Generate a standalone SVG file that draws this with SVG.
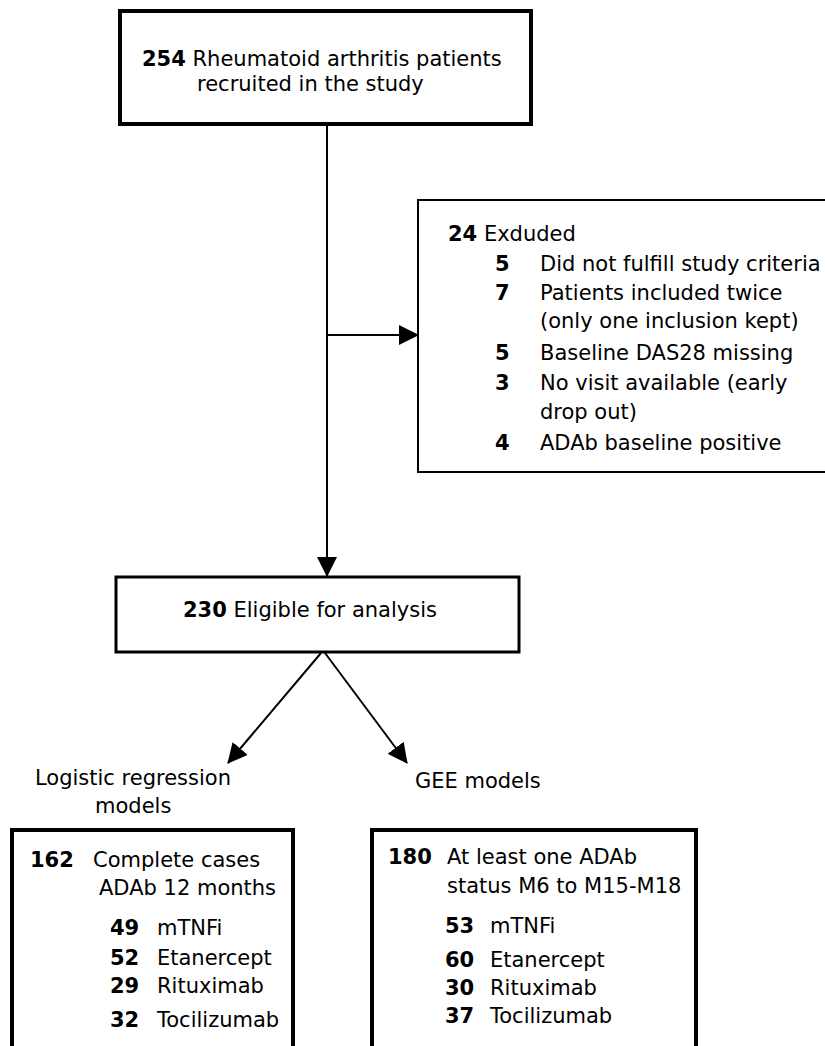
<svg xmlns="http://www.w3.org/2000/svg" width="825" height="1046" viewBox="0 0 825 1046">
<style>
text{font-family:"DejaVu Sans","Verdana",sans-serif;font-size:21px;fill:#000}
.b{font-weight:bold}
.box{fill:#fff;stroke:#000}
.thick{stroke-width:4}
.thin{stroke-width:2}
.mid{stroke-width:3}
.con{stroke:#000;stroke-width:2;fill:none}
</style>
<defs>
<marker id="ah" markerUnits="userSpaceOnUse" markerWidth="20" markerHeight="20" refX="19" refY="10" orient="auto">
<path d="M0,0 L20,10 L0,20 z" fill="#000"/>
</marker>
</defs>
<rect width="825" height="1046" fill="#fff"/>
<g id="connectors">
<line class="con" x1="327" y1="124" x2="327" y2="576" marker-end="url(#ah)"/>
<line class="con" x1="327" y1="335" x2="418" y2="335" marker-end="url(#ah)"/>
<line class="con" x1="321" y1="653" x2="228" y2="763" marker-end="url(#ah)"/>
<line class="con" x1="325" y1="653" x2="407" y2="763" marker-end="url(#ah)"/>
</g>
<g id="recruited">
<rect class="box thick" x="120" y="11" width="411" height="113"/>
<text x="142" y="66"><tspan class="b">254</tspan> Rheumatoid arthritis patients</text>
<text x="197" y="91">recruited in the study</text>
</g>
<g id="excluded">
<rect class="box thin" x="418" y="200" width="420" height="272"/>
<text x="448" y="241"><tspan class="b">24</tspan> Exduded</text>
<text class="b" x="495" y="271">5</text><text x="540" y="271">Did not fulfill study criteria</text>
<text class="b" x="495" y="300">7</text><text x="540" y="300">Patients included twice</text>
<text x="540" y="328">(only one inclusion kept)</text>
<text class="b" x="495" y="360">5</text><text x="540" y="360">Baseline DAS28 missing</text>
<text class="b" x="495" y="390">3</text><text x="540" y="390">No visit available (early</text>
<text x="540" y="419">drop out)</text>
<text class="b" x="495" y="450">4</text><text x="540" y="450">ADAb baseline positive</text>
</g>
<g id="eligible">
<rect class="box mid" x="116" y="577" width="403" height="75"/>
<text x="183" y="617"><tspan class="b">230</tspan> Eligible for analysis</text>
</g>
<g id="label-logistic">
<text x="35" y="785">Logistic regression</text>
<text x="95" y="813">models</text>
</g>
<g id="label-gee">
<text x="415" y="788">GEE models</text>
</g>
<g id="logistic">
<rect class="box thick" x="12" y="830" width="281" height="230"/>
<text class="b" x="30" y="867">162</text><text x="93" y="867">Complete cases</text>
<text x="99" y="895">ADAb 12 months</text>
<text class="b" x="110" y="935">49</text><text x="157" y="935">mTNFi</text>
<text class="b" x="110" y="965">52</text><text x="157" y="965">Etanercept</text>
<text class="b" x="110" y="993">29</text><text x="157" y="993">Rituximab</text>
<text class="b" x="110" y="1027">32</text><text x="157" y="1027">Tocilizumab</text>
</g>
<g id="gee">
<rect class="box thick" x="372" y="830" width="324" height="230"/>
<text class="b" x="388" y="864">180</text><text x="447" y="864">At least one ADAb</text>
<text x="447" y="893">status M6 to M15-M18</text>
<text class="b" x="445" y="933">53</text><text x="490" y="933">mTNFi</text>
<text class="b" x="445" y="967">60</text><text x="490" y="967">Etanercept</text>
<text class="b" x="445" y="995">30</text><text x="490" y="995">Rituximab</text>
<text class="b" x="445" y="1023">37</text><text x="490" y="1023">Tocilizumab</text>
</g>
</svg>
